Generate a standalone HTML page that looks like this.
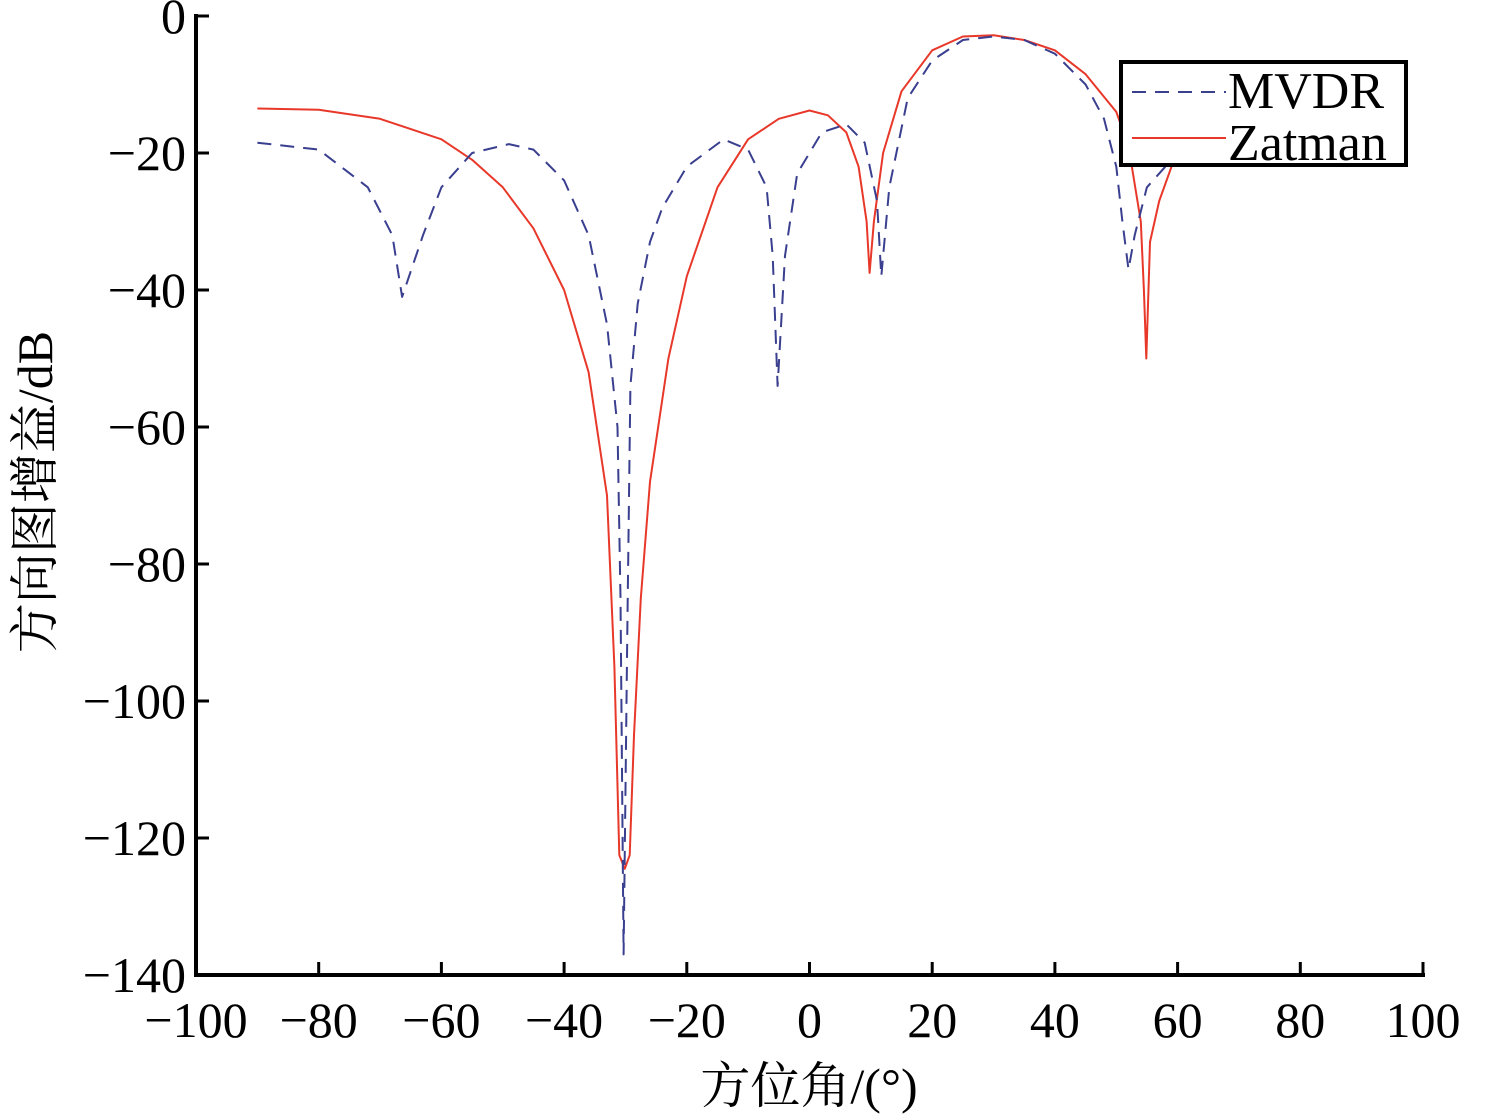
<!DOCTYPE html>
<html><head><meta charset="utf-8"><style>
html,body{margin:0;padding:0;background:#fff;}
svg{display:block;font-family:"Liberation Serif","Noto Serif CJK SC",serif;}
</style></head><body>
<svg width="1491" height="1120" viewBox="0 0 1491 1120">
<g id="ticks"></g>
<g id="plot"></g>
<text x="809" y="1103" font-size="50" text-anchor="middle">方位角/(°)</text>
<text transform="translate(52,492) rotate(-90)" font-size="50" text-anchor="middle">方向图增益/dB</text>
<g>
<rect x="1121" y="62" width="285" height="103" fill="#fff" stroke="#000" stroke-width="4"/>
<line x1="1132" y1="92" x2="1226" y2="92" stroke="#3a3f8f" stroke-width="2" stroke-dasharray="14,9"/>
<text x="1228" y="108" font-size="52">MVDR</text>
<line x1="1132" y1="138" x2="1226" y2="138" stroke="#e8382a" stroke-width="2"/>
<text x="1228" y="160" font-size="52">Zatman</text>
</g>
</svg>
<script>
const xTicks=[-100,-80,-60,-40,-20,0,20,40,60,80,100];
const yTicks=[0,-20,-40,-60,-80,-100,-120,-140];
const mvdrAngles=[-90,-80,-72,-68,-66.4,-63,-60,-55,-49,-45,-40,-36,-33,-31.3,-30.8,-30.3,-29.7,-29.2,-28,-26,-24,-20,-14,-10,-7,-6,-5.2,-4,-2,2,6,9,11,11.7,13,16,20,25,30,35,40,45,48,50,51,52,53,55,58];
const mvdrGain=[-18.5,-19.5,-25,-32,-41,-32,-25,-20,-18.7,-19.5,-24,-32,-45,-60,-85,-137,-90,-54,-42,-33,-28,-22,-18,-19.5,-25,-35,-54,-35,-23,-17,-15.8,-18.5,-27,-38,-25,-12,-6.5,-3.5,-3,-3.5,-5.5,-10,-15,-22,-30,-37,-32,-25,-22];
const zatAngles=[-90,-80,-70,-60,-55,-50,-45,-40,-36,-33,-31.8,-31,-30.1,-29.3,-28.6,-27.5,-26,-23,-20,-15,-10,-5,0,3,6,8,9.3,9.8,10.5,12,15,20,25,30,35,40,45,50,52,54,54.5,54.9,55.5,57,59];
const zatGain=[-13.5,-13.7,-15,-18,-21,-25,-31,-40,-52,-70,-95,-122.5,-124.5,-122.5,-105,-85,-68,-50,-38,-25,-18,-15,-13.8,-14.5,-17,-22,-30,-37.5,-30,-20,-11,-5,-3,-2.8,-3.5,-5,-8.5,-14,-19,-30,-40,-50,-33,-27,-22];
const NS="http://www.w3.org/2000/svg";
const X0=196,X1=1423,Y0=16,Y1=975;
const xs=a=>X0+(a+100)/200*(X1-X0);
const ys=d=>Y0+(-d)/140*(Y1-Y0);
const tg=document.getElementById('ticks'), pg=document.getElementById('plot');
function mk(tag,at,parent){const e=document.createElementNS(NS,tag);for(const k in at)e.setAttribute(k,at[k]);parent.appendChild(e);return e;}
const xa=mk('line',{x1:X0,y1:Y1,x2:X1+2,y2:Y1,stroke:'#000','stroke-width':4},tg);


const ya=mk('line',{x1:X0,y1:Y0-2,x2:X0,y2:Y1+2,stroke:'#000','stroke-width':4},tg);


xTicks.forEach(v=>{
 const t=mk('line',{x1:xs(v),y1:Y1,x2:xs(v),y2:Y1-13,stroke:'#000','stroke-width':3},tg);
 
 
 const l=mk('text',{x:xs(v),y:1037,'font-size':50,'text-anchor':'middle'},tg);
 l.textContent=(v<0?'\u2212':'')+Math.abs(v);
 
 
});
yTicks.forEach(v=>{
 const t=mk('line',{x1:X0,y1:ys(v),x2:X0+13,y2:ys(v),stroke:'#000','stroke-width':3},tg);
 
 
 const l=mk('text',{x:186,y:ys(v)+17,'font-size':50,'text-anchor':'end'},tg);
 l.textContent=(v<0?'\u2212':'')+Math.abs(v);
 
 
});
function series(A,G,color,dash,name){
 const pts=A.map((a,i)=>xs(a).toFixed(1)+','+ys(G[i]).toFixed(1)).join(' ');
 const p=mk('polyline',{points:pts,fill:'none',stroke:color,'stroke-width':2,'stroke-linejoin':'round'},pg);
 if(dash)p.setAttribute('stroke-dasharray',dash);
 
 
}
series(zatAngles,zatGain,'#e8382a',null,'zatman-line');
series(mvdrAngles,mvdrGain,'#3a3f8f','14,9','mvdr-line');
</script>
</body></html>
